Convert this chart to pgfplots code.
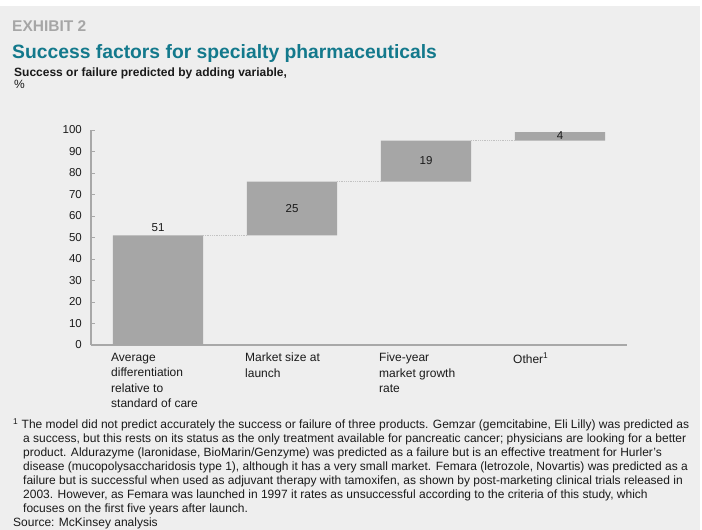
\documentclass[border=0pt]{standalone}
\usepackage{fontspec}
\setmainfont{Liberation Sans}
\usepackage{pgfplots}
\pgfplotsset{compat=1.18}
\definecolor{bgGray}{HTML}{EEEEEE}
\definecolor{barGray}{HTML}{A6A6A6}
\definecolor{axGray}{HTML}{A8A8A8}
\definecolor{exGray}{HTML}{A6A6A6}
\definecolor{teal}{HTML}{13798C}
\definecolor{txt}{HTML}{1A1A1A}
\begin{document}
\begin{tikzpicture}[x=1bp,y=1bp]
\useasboundingbox (0,0) rectangle (702,530);
\fill[white] (0,0) rectangle (702,530);
\fill[bgGray] (0,0) rectangle (700,524);
% titles
\node[anchor=base west, inner sep=0, text=exGray, font=\fontsize{15.5bp}{18bp}\selectfont\bfseries] at (12,498) {EXHIBIT 2};
\node[anchor=base west, inner sep=0, text=teal, font=\fontsize{19.3bp}{22bp}\selectfont\bfseries] at (12,471) {Success factors for specialty pharmaceuticals};
\node[anchor=base west, inner sep=0, text=txt, font=\fontsize{12bp}{13bp}\selectfont\bfseries] at (14,453) {Success or failure predicted by adding variable,};
\node[anchor=base west, inner sep=0, text=txt, font=\fontsize{12bp}{13bp}\selectfont] at (14,441) {\%};
% footnotes
\begin{scope}[every node/.style={anchor=base west, inner sep=0, text=txt, font=\fontsize{12bp}{14bp}\selectfont}]
\node at (13,101) {\textsuperscript{1} The model did not predict accurately the success or failure of three products. Gemzar (gemcitabine, Eli Lilly) was predicted as};
\node at (23,87) {a success, but this rests on its status as the only treatment available for pancreatic cancer; physicians are looking for a better};
\node at (23,73) {product. Aldurazyme (laronidase, BioMarin/Genzyme) was predicted as a failure but is an effective treatment for Hurler’s};
\node at (23,59) {disease (mucopolysaccharidosis type 1), although it has a very small market. Femara (letrozole, Novartis) was predicted as a};
\node at (23,45) {failure but is successful when used as adjuvant therapy with tamoxifen, as shown by post-marketing clinical trials released in};
\node at (23,31) {2003. However, as Femara was launched in 1997 it rates as unsuccessful according to the criteria of this study, which};
\node at (23,17) {focuses on the first five years after launch.};
\node at (13,3) {Source: McKinsey analysis};
\end{scope}
% bars
\begin{axis}[
  at={(91bp,185bp)}, anchor=south west,
  scale only axis, width=536bp, height=215bp,
  xmin=-0.5, xmax=3.5, ymin=0, ymax=100,
  axis lines*=left,
  x axis line style={draw=axGray, line width=2.2bp},
  y axis line style={draw=axGray, line width=1.3bp},
  ytick={0,10,...,100},
  xtick={0,1,2,3},
  xticklabels={{Average\\differentiation\\relative to\\standard of care},{Market size at\\launch},{Five-year\\market growth\\rate},{Other\textsuperscript{1}}},
  xtick style={draw=none},
  ytick style={draw=axGray, line width=0.8bp},
  major tick length=4bp, tick align=inside,
  /pgf/number format/assume math mode=true,
  yticklabel style={font=\fontsize{11.5bp}{13bp}\selectfont, text=txt, inner sep=0pt, xshift=-9bp},
  xticklabel style={font=\fontsize{12bp}{15.3bp}\selectfont, text=txt, align=left, anchor=north west, inner sep=0pt, xshift=-47bp, yshift=-8bp},
  ybar stacked, bar width=0.672,
  clip=false,
]
\addplot[draw=none, fill=none] coordinates {(0,0) (1,51) (2,76) (3,95)};
\addplot[draw=none, fill=barGray] coordinates {(0,51) (1,25) (2,19) (3,4)};
\end{axis}
\begin{axis}[
  at={(91bp,185bp)}, anchor=south west,
  scale only axis, width=536bp, height=215bp,
  xmin=-0.5, xmax=3.5, ymin=0, ymax=100,
  hide axis, clip=false,
]
\addplot[draw=axGray!70, densely dotted, line width=0.8bp] coordinates {(0.336,51) (0.664,51)};
\addplot[draw=axGray!70, densely dotted, line width=0.8bp] coordinates {(1.336,76) (1.664,76)};
\addplot[draw=axGray!70, densely dotted, line width=0.8bp] coordinates {(2.336,95) (2.664,95)};
\addplot[only marks, mark=none, nodes near coords, point meta=explicit symbolic,
  nodes near coords style={anchor=center, font=\fontsize{11.5bp}{13bp}\selectfont, text=txt}]
  coordinates {(0,54.5)[51] (1,63.5)[25] (2,85.6)[19] (3,97.2)[4]};
\end{axis}
\end{tikzpicture}
\end{document}
